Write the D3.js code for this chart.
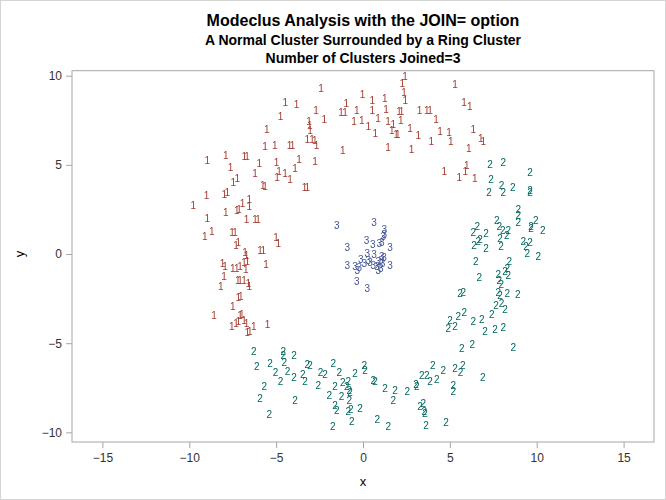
<!DOCTYPE html>
<html><head><meta charset="utf-8">
<script src="https://cdn.jsdelivr.net/npm/d3@7"></script>
<style>body{margin:0;background:#fff}svg{display:block;-webkit-font-smoothing:antialiased}text{font-family:"Liberation Sans",Arial,sans-serif}.marks{will-change:transform}</style>
</head><body><svg id="c" width="666" height="500"></svg>
<script>
const titles = ["Modeclus Analysis with the JOIN= option","A Normal Cluster Surrounded by a Ring Cluster","Number of Clusters Joined=3"];
const xTicks = [-15,-10,-5,0,5,10,15];
const yTicks = [-10,-5,0,5,10];
const clusterLabels = ["1","2","3"];
const cluster1 = [
[2.42,9.94],[2.26,9.57],[5.30,9.52],[2.36,9.07],[2.44,8.62],[-0.02,8.96],[-0.96,8.45],[-1.27,7.96],[-1.04,7.96],[-0.36,8.04],
[0.54,8.60],[1.25,8.73],[0.54,8.04],[1.32,8.13],[2.07,7.98],[2.22,7.98],[3.26,8.08],[3.67,8.08],[3.86,8.04],[5.81,8.51],
[6.14,8.30],[-0.52,7.42],[-0.07,7.48],[0.31,7.18],[0.86,7.61],[1.44,7.42],[1.74,7.29],[1.65,6.96],[1.90,6.73],[2.00,6.73],
[2.17,7.48],[0.71,6.77],[2.71,7.05],[3.18,6.64],[3.93,6.34],[4.43,6.86],[4.95,6.80],[5.05,6.34],[4.20,7.57],[6.35,7.01],
[6.78,6.49],[6.93,6.30],[-1.17,5.79],[1.44,5.98],[2.80,5.87],[6.09,5.93],[5.97,4.99],[4.68,4.62],[5.54,4.30],[5.89,4.62],
[6.43,4.25],[-2.42,9.29],[-4.47,8.49],[-3.82,8.41],[-4.74,7.74],[-2.71,8.08],[-2.23,7.56],[-3.11,7.42],[-3.07,7.24],[-3.05,6.92],
[-3.21,6.43],[-2.94,6.43],[-2.78,6.36],[-2.67,6.11],[-5.54,6.99],[-5.64,6.06],[-5.08,6.11],[-4.23,6.07],[-4.06,6.07],[-8.96,5.27],
[-7.90,5.51],[-6.84,5.50],[-6.67,5.50],[-7.62,4.84],[-5.97,5.09],[-4.97,5.14],[-3.68,5.33],[-2.76,5.22],[-6.22,4.53],[-4.95,4.30],
[-4.84,4.62],[-4.49,4.53],[-4.20,4.19],[-3.91,4.81],[-7.47,4.00],[-7.24,4.25],[-5.77,3.87],[-5.64,3.81],[-3.37,3.72],[-3.20,3.72],
[-9.77,2.75],[-9.00,3.31],[-7.98,3.37],[-7.81,3.44],[-8.96,2.00],[-7.90,2.34],[-7.27,2.43],[-7.14,2.52],[-6.93,2.84],[-6.55,3.08],
[-6.55,2.65],[-6.70,1.96],[-6.22,1.96],[-6.04,1.96],[-9.10,0.97],[-8.71,1.25],[-7.54,1.19],[-7.37,1.19],[-7.31,0.50],[-7.18,0.63],
[-5.01,0.94],[-4.88,0.60],[-6.79,0.07],[-6.70,-0.06],[-5.93,0.19],[-5.74,0.19],[-8.08,-0.52],[-7.94,-0.67],[-7.50,-0.80],[-7.27,-0.80],
[-7.08,-0.67],[-6.85,-0.49],[-6.74,-0.86],[-6.66,-0.43],[-5.58,-0.56],[-8.00,-1.23],[-7.21,-1.46],[-7.08,-1.46],[-6.85,-1.50],[-6.60,-1.64],
[-6.55,-1.79],[-8.19,-1.83],[-7.18,-2.43],[-7.04,-2.40],[-7.50,-2.96],[-8.58,-3.42],[-7.08,-3.42],[-6.98,-3.37],[-6.85,-3.70],[-7.56,-4.08],
[-7.31,-3.89],[-7.18,-3.80],[-6.70,-3.89],[-6.51,-4.36],[-6.66,-4.41],[-6.28,-4.04],[-5.49,-3.94]
];
const cluster2 = [
[7.31,5.05],[8.08,5.12],[7.37,4.19],[7.98,3.87],[8.62,3.74],[9.61,4.56],[7.25,3.46],[8.08,3.46],[9.61,3.59],[9.61,3.46],
[8.94,2.52],[8.94,2.19],[8.94,1.76],[9.94,1.87],[9.67,1.57],[9.67,1.44],[10.35,1.31],[7.70,1.87],[7.85,1.57],[8.04,1.35],
[8.36,1.35],[8.27,1.07],[7.89,0.88],[7.94,0.41],[6.58,1.57],[6.35,1.19],[6.74,0.82],[6.64,0.69],[6.39,0.50],[7.08,1.16],
[7.08,0.32],[9.23,0.69],[9.61,0.63],[9.38,0.41],[9.46,0.04],[10.09,-0.15],[6.49,-0.43],[8.42,-0.43],[8.31,-0.80],[8.18,-0.99],
[7.79,-1.12],[8.36,-1.18],[6.70,-1.31],[7.85,-1.46],[7.96,-1.68],[5.58,-2.20],[5.77,-2.17],[7.79,-2.17],[7.89,-2.30],[8.31,-2.20],
[8.91,-2.24],[7.66,-2.86],[7.98,-2.77],[8.18,-3.10],[7.41,-3.38],[5.49,-3.48],[5.83,-3.29],[5.01,-3.70],[4.91,-4.17],[5.30,-4.04],
[6.35,-3.76],[6.83,-3.66],[7.02,-4.36],[7.60,-4.22],[8.08,-4.11],[5.68,-5.29],[6.29,-5.05],[8.65,-5.23],[4.01,-6.23],[4.62,-6.55],
[5.30,-6.41],[5.74,-6.23],[5.62,-6.66],[3.38,-6.79],[3.67,-6.79],[3.86,-7.16],[4.24,-7.03],[6.89,-6.92],[5.20,-7.35],[5.20,-7.68],
[0.59,-7.07],[0.69,-7.16],[1.27,-7.53],[1.84,-7.63],[2.55,-7.72],[3.05,-7.29],[3.09,-7.44],[1.74,-8.19],[3.28,-8.53],[3.47,-8.37],
[3.53,-8.85],[3.57,-8.94],[0.82,-9.27],[1.46,-9.65],[3.63,-9.59],[4.78,-9.46],
[-6.28,-5.48],[-4.59,-5.48],[-4.59,-5.67],[-3.97,-5.70],[-6.12,-6.32],[-5.35,-6.13],[-4.53,-6.10],[-3.21,-6.17],[-3.05,-6.23],[-1.71,-6.13],
[-5.03,-6.66],[-4.74,-7.12],[-4.34,-6.60],[-3.97,-6.94],[-3.47,-6.73],[-3.34,-7.16],[-2.44,-6.64],[-2.19,-6.73],[-1.36,-6.66],[-0.46,-6.69],
[0.07,-6.27],[0.12,-6.51],[-5.68,-7.40],[-2.57,-7.35],[-1.61,-7.40],[-1.17,-7.20],[-0.85,-7.16],[-0.94,-7.44],[-0.79,-7.63],[-0.75,-7.78],
[-1.94,-7.91],[-1.23,-7.96],[-0.79,-8.19],[-5.93,-8.09],[-3.91,-8.23],[-1.61,-8.47],[-1.51,-8.75],[-0.85,-8.85],[-0.71,-8.71],[-0.17,-8.65],
[-5.39,-8.97],[-1.74,-9.69],[-0.65,-9.41]
];
const cluster3 = [
[-1.51,1.63],[0.63,1.78],[1.23,1.39],[1.23,1.10],[1.17,1.01],[0.21,0.75],[0.56,0.56],[0.94,0.60],[1.08,0.66],[1.55,0.38],
[-0.90,0.38],[0.25,0.04],[0.63,0.00],[1.08,-0.15],[1.21,-0.19],[-0.13,-0.30],[0.31,-0.34],[0.40,-0.49],[0.59,-0.62],[0.88,-0.43],
[1.02,-0.34],[1.13,-0.52],[0.79,-0.71],[1.02,-0.80],[0.88,-0.90],[-0.90,-0.62],[-0.46,-0.67],[-0.33,-0.90],[-0.21,-0.77],[0.07,-0.52],
[1.55,-0.62],[-0.36,-1.55],[0.25,-1.92]
];
const clusterColors = ["#A23A2E","#01665E","#445694"];

const svg = d3.select("#c");
const L=72, R=654, T=70.7, B=442;
const x = d3.scaleLinear().domain([-16.75,16.75]).range([L,R]);
const y = d3.scaleLinear().domain([-10.54,10.28]).range([B,T]);

svg.append("rect").attr("x",0.5).attr("y",0.5).attr("width",665).attr("height",499).attr("fill","#fff").attr("stroke","#d4d4d4");

const tsz=[16,14,14], tby=[26,44.5,62.5];
titles.forEach((t,i)=>svg.append("text").attr("x",363).attr("y",tby[i]).attr("text-anchor","middle")
  .attr("font-size",tsz[i]).attr("font-weight","bold").attr("fill","#000").text(t));

svg.append("rect").attr("x",L).attr("y",T).attr("width",R-L).attr("height",B-T).attr("fill","none").attr("stroke","#a6a6a6");

const xa = svg.append("g").attr("transform",`translate(0,${B})`)
  .call(d3.axisBottom(x).tickValues(xTicks).tickSize(6).tickPadding(5).tickFormat(d3.format("d")));
const ya = svg.append("g").attr("transform",`translate(${L},0)`)
  .call(d3.axisLeft(y).tickValues(yTicks).tickSize(6).tickPadding(4).tickFormat(d3.format("d")));
[xa,ya].forEach(a=>{a.select(".domain").remove();
  a.selectAll(".tick line").attr("stroke","#a6a6a6");
  a.selectAll(".tick text").attr("fill","#333").attr("font-size",12).attr("font-family","Liberation Sans, Arial, sans-serif");});

svg.append("text").attr("x",363).attr("y",486).attr("text-anchor","middle").attr("font-size",13).attr("fill","#000").text("x");
svg.append("text").attr("transform","translate(24,254) rotate(-90)").attr("text-anchor","middle").attr("font-size",13).attr("fill","#000").text("y");

const g = svg.append("g").attr("class","marks").attr("opacity",0.999);
[cluster1,cluster2,cluster3].forEach((pts,i)=>{
  g.selectAll(null).data(pts).enter().append("text")
    .attr("x",d=>x(d[0])).attr("y",d=>y(d[1])).attr("dy","0.36em")
    .attr("text-anchor","middle").attr("font-size",10).attr("fill",clusterColors[i])
    .text(clusterLabels[i]);
});
</script></body></html>
